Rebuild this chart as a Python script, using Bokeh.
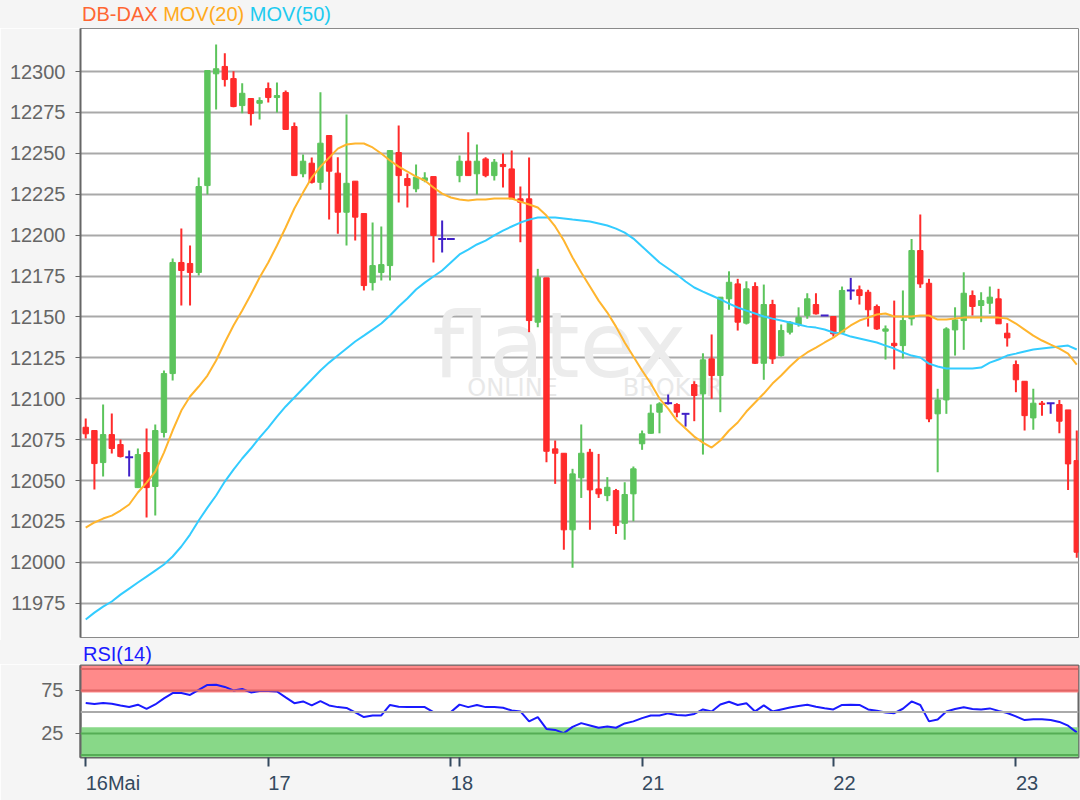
from bokeh.plotting import figure
from bokeh.layouts import column
from bokeh.models import Div, FixedTicker, ColumnDataSource, Range1d, Span, BoxAnnotation
from bokeh.embed import file_html
from bokeh.resources import INLINE
from bokeh.core.properties import value

# ---------------- data ----------------
opens = [12082.6, 12080.6, 12061.0, 12078.1, 12072.0, 12064.3, 12045.7, 12067.1, 12046.4, 12079.4,
         12115.4, 12183.3, 12182.7, 12177.2, 12230.3, 12298.6, 12303.1, 12295.7, 12279.2, 12283.5,
         12280.6, 12289.6, 12284.1, 12287.2, 12266.4, 12237.5, 12244.0, 12232.3, 12260.9, 12237.9,
         12214.0, 12233.0, 12213.2, 12171.0, 12177.2, 12181.4, 12250.5, 12234.6, 12228.3, 12233.4,
         12235.8, 12197.7, 12197.7, 12236.4, 12245.2, 12237.5, 12246.6, 12236.4, 12243.2, 12240.5,
         12222.2, 12222.2, 12146.8, 12173.9, 12069.4, 12066.7, 12019.9, 12051.7, 12067.3, 12044.9,
         12040.8, 12043.9, 12023.9, 12041.9, 12072.5, 12078.9, 12091.8, 12097.3, 12096.5, 12090.8,
         12108.7, 12103.0, 12124.4, 12114.2, 12161.1, 12170.2, 12146.2, 12168.6, 12121.7, 12157.6,
         12126.4, 12140.7, 12145.4, 12150.9, 12157.6, 12150.9, 12150.3, 12140.7, 12166.2, 12166.6,
         12165.1, 12156.4, 12141.3, 12133.9, 12132.5, 12148.9, 12190.6, 12170.6, 12090.8, 12099.3,
         12142.1, 12147.8, 12163.1, 12157.0, 12158.4, 12161.1, 12140.1, 12120.9, 12110.7, 12088.3,
         12097.3, 12097.3, 12096.5, 12093.2, 12062.2]
highs = [12087.9, 12080.6, 12096.5, 12091.0, 12075.1, 12068.4, 12069.6, 12081.8, 12084.3, 12117.3,
         12185.7, 12204.0, 12193.7, 12235.2, 12300.6, 12316.5, 12311.2, 12300.2, 12292.9, 12283.5,
         12284.3, 12293.3, 12293.3, 12288.4, 12268.8, 12249.3, 12247.4, 12287.4, 12260.9, 12247.6,
         12273.7, 12233.0, 12213.2, 12207.7, 12205.3, 12251.7, 12267.0, 12237.7, 12243.2, 12238.4,
         12235.8, 12208.9, 12197.7, 12248.7, 12262.9, 12255.4, 12247.6, 12246.6, 12249.9, 12251.7,
         12229.7, 12247.4, 12179.4, 12173.9, 12074.5, 12066.7, 12057.2, 12084.3, 12069.4, 12066.3,
         12052.1, 12044.9, 12049.0, 12058.6, 12080.6, 12096.5, 12097.9, 12102.6, 12097.3, 12090.8,
         12110.7, 12127.8, 12139.3, 12162.1, 12177.9, 12173.3, 12171.8, 12171.2, 12169.8, 12160.5,
         12145.4, 12147.4, 12155.9, 12164.5, 12164.5, 12150.9, 12150.3, 12168.6, 12173.9, 12169.2,
         12166.6, 12157.6, 12144.8, 12160.0, 12166.2, 12197.7, 12212.6, 12173.3, 12106.1, 12143.7,
         12155.9, 12177.3, 12166.2, 12165.1, 12168.6, 12167.2, 12146.2, 12123.4, 12110.7, 12106.1,
         12098.6, 12097.3, 12099.3, 12093.2, 12080.6]
lows = [12075.7, 12044.5, 12052.5, 12066.5, 12064.1, 12052.5, 12045.7, 12027.4, 12028.6, 12076.3,
        12111.1, 12157.0, 12157.0, 12175.3, 12224.8, 12276.8, 12290.8, 12278.2, 12274.5, 12267.0,
        12270.7, 12281.1, 12274.9, 12264.6, 12236.4, 12235.4, 12231.5, 12227.7, 12209.5, 12200.8,
        12193.7, 12196.7, 12166.2, 12166.2, 12172.3, 12172.3, 12219.9, 12216.9, 12226.2, 12232.3,
        12183.3, 12189.4, 12197.7, 12232.3, 12236.4, 12224.8, 12235.4, 12233.4, 12229.1, 12222.2,
        12195.7, 12140.7, 12143.7, 12061.2, 12048.0, 12007.7, 11996.7, 12039.4, 12019.9, 12039.4,
        12037.4, 12017.4, 12013.8, 12025.1, 12068.8, 12078.6, 12078.9, 12096.5, 12088.7, 12083.0,
        12086.3, 12065.9, 12100.0, 12091.8, 12154.4, 12141.7, 12145.4, 12121.3, 12111.6, 12121.3,
        12125.8, 12139.3, 12144.1, 12148.9, 12151.5, 12150.9, 12138.0, 12140.7, 12160.5, 12157.6,
        12144.1, 12142.1, 12124.0, 12117.9, 12124.6, 12144.8, 12167.8, 12085.7, 12055.1, 12090.8,
        12126.4, 12129.9, 12150.9, 12146.8, 12151.9, 12145.8, 12131.9, 12104.0, 12080.6, 12081.0,
        12089.7, 12090.8, 12078.9, 12044.3, 12002.8]
closes = [12078.6, 12060.4, 12078.1, 12069.6, 12064.7, 12064.3, 12065.9, 12045.7, 12080.6, 12115.4,
          12183.3, 12178.4, 12177.2, 12229.7, 12300.6, 12301.7, 12295.1, 12278.6, 12286.7, 12274.3,
          12282.3, 12284.1, 12285.3, 12264.6, 12236.4, 12245.2, 12232.3, 12256.2, 12239.1, 12214.0,
          12231.7, 12211.0, 12169.2, 12181.4, 12182.0, 12251.7, 12236.4, 12230.3, 12235.4, 12235.0,
          12199.8, 12197.7, 12197.7, 12245.2, 12236.4, 12245.2, 12236.4, 12244.6, 12241.9, 12222.2,
          12220.1, 12147.8, 12174.3, 12067.9, 12066.7, 12019.9, 12054.1, 12066.7, 12044.3, 12041.9,
          12045.9, 12022.5, 12041.5, 12057.2, 12078.6, 12091.2, 12096.9, 12097.3, 12091.8, 12090.8,
          12102.0, 12123.8, 12114.2, 12162.1, 12171.2, 12146.8, 12167.2, 12121.7, 12157.6, 12124.4,
          12141.7, 12146.8, 12149.8, 12161.1, 12151.9, 12150.9, 12139.7, 12166.2, 12166.2, 12163.1,
          12154.4, 12142.7, 12142.7, 12132.5, 12147.8, 12190.6, 12170.2, 12087.7, 12099.3, 12142.7,
          12148.2, 12164.5, 12156.4, 12160.0, 12162.1, 12145.8, 12137.2, 12111.6, 12089.7, 12097.3,
          12096.5, 12097.3, 12086.3, 12060.2, 12006.2]
ma20 = [12021.3, 12024.4, 12026.8, 12028.6, 12031.7, 12035.4, 12042.7, 12048.8, 12055.5, 12067.1,
        12080.6, 12092.8, 12101.4, 12107.5, 12114.2, 12123.4, 12134.4, 12144.8, 12153.9, 12163.7,
        12174.1, 12183.3, 12193.7, 12204.7, 12216.3, 12226.0, 12235.2, 12241.9, 12247.4, 12252.9,
        12255.4, 12256.0, 12256.0, 12253.6, 12249.9, 12245.6, 12241.9, 12238.9, 12235.8, 12233.4,
        12229.1, 12225.4, 12223.0, 12221.8, 12221.2, 12221.8, 12221.8, 12222.4, 12222.4, 12222.4,
        12220.5, 12218.7, 12216.9, 12212.0, 12205.3, 12196.7, 12186.3, 12177.2, 12168.6, 12160.0,
        12152.7, 12144.1, 12134.4, 12125.8, 12117.3, 12109.3, 12100.1, 12094.0, 12086.7, 12081.8,
        12076.9, 12073.2, 12070.2, 12074.5, 12080.6, 12085.5, 12092.2, 12097.7, 12103.2, 12109.3,
        12114.2, 12119.7, 12124.6, 12128.3, 12131.3, 12134.4, 12137.4, 12141.1, 12144.8, 12147.8,
        12149.6, 12151.5, 12152.1, 12150.3, 12150.3, 12150.3, 12150.9, 12150.9, 12148.4, 12148.4,
        12149.0, 12149.6, 12149.6, 12149.6, 12149.6, 12149.6, 12149.0, 12146.0, 12142.3, 12138.6,
        12135.6, 12133.1, 12130.7, 12127.6, 12120.9]
ma50 = [11965.1, 11969.3, 11973.0, 11976.1, 11980.3, 11984.0, 11987.7, 11991.3, 11995.0, 11998.7,
        12003.6, 12009.7, 12017.0, 12025.6, 12033.5, 12040.9, 12049.4, 12056.7, 12063.5, 12069.6,
        12076.3, 12082.4, 12089.1, 12095.3, 12100.8, 12106.3, 12111.8, 12117.3, 12122.1, 12126.4,
        12130.7, 12135.0, 12138.6, 12142.3, 12146.0, 12150.9, 12156.4, 12161.3, 12166.8, 12171.0,
        12174.7, 12178.4, 12183.3, 12188.2, 12191.2, 12194.3, 12196.7, 12199.8, 12202.8, 12205.3,
        12207.7, 12209.5, 12210.8, 12210.8, 12210.8, 12210.2, 12209.5, 12208.9, 12208.3, 12207.1,
        12205.9, 12204.0, 12201.5, 12197.9, 12193.0, 12188.2, 12183.3, 12179.6, 12175.9, 12171.7,
        12168.0, 12165.5, 12163.1, 12160.7, 12158.2, 12155.8, 12153.9, 12152.1, 12150.3, 12149.0,
        12147.8, 12146.6, 12145.4, 12144.1, 12143.5, 12142.3, 12140.5, 12139.9, 12138.0, 12136.8,
        12135.6, 12134.4, 12132.5, 12130.7, 12128.3, 12126.4, 12125.2, 12121.5, 12119.7, 12118.5,
        12118.5, 12118.5, 12118.5, 12119.1, 12122.1, 12124.0, 12126.4, 12127.6, 12128.9, 12130.1,
        12130.7, 12131.3, 12131.9, 12132.5, 12130.1]
rsi = [60.5, 59.3, 60.5, 59.5, 57.6, 55.8, 58.4, 53.5, 58.7, 65.7,
       71.9, 72.1, 69.8, 75.6, 81.4, 81.6, 79.1, 75.0, 76.7, 72.7,
       74.2, 74.2, 73.8, 66.9, 60.2, 62.2, 57.6, 62.6, 57.6, 55.6,
       54.7, 49.4, 44.0, 45.9, 45.9, 58.1, 56.0, 55.6, 55.6, 55.6,
       49.8, 49.8, 49.8, 58.5, 55.6, 58.1, 55.6, 55.6, 54.9, 51.7,
       50.6, 39.0, 44.0, 30.2, 29.1, 25.3, 32.6, 37.0, 34.3, 31.6,
       33.1, 31.6, 36.6, 39.0, 42.8, 45.9, 45.9, 48.3, 46.5, 45.9,
       47.7, 52.9, 50.6, 58.7, 61.9, 58.1, 60.2, 50.6, 57.6, 50.6,
       52.9, 55.2, 57.0, 58.4, 56.0, 54.3, 52.9, 58.1, 58.4, 58.1,
       52.9, 51.4, 49.4, 48.6, 53.7, 62.2, 58.1, 39.0, 41.3, 50.6,
       53.5, 55.5, 53.5, 52.9, 54.1, 51.2, 48.8, 44.8, 40.5, 41.6,
       41.6, 40.7, 38.4, 34.0, 26.2]
day_ticks = [0, 21, 42, 43, 64, 86, 107]
label_ticks = [0, 21, 42, 64, 86, 107]
day_labels = ["16Mai", "17", "18", "21", "22", "23"]
price_ticks = [11975, 12000, 12025, 12050, 12075, 12100, 12125, 12150, 12175, 12200, 12225, 12250, 12275, 12300]
rsi_ticks = [25, 75]

# ---------------- styling ----------------
UP = "#5cc45c"
DOWN = "#ff2b2b"
DOJI = "#4020c8"
BG = "#f5f5f5"
FONT = "Liberation Sans"
W = 1080
X0, X1 = -0.6, 114.2
PX_PER_UNIT = (W - 80 - 2) / (X1 - X0)

idx = list(range(len(opens)))
colors = [UP if c > o else (DOWN if c < o else DOJI) for o, c in zip(opens, closes)]

body_i = [i for i in idx if opens[i] != closes[i]]
body_src = ColumnDataSource(dict(
    x=body_i,
    top=[max(opens[i], closes[i]) for i in body_i],
    bottom=[min(opens[i], closes[i]) for i in body_i],
    color=[colors[i] for i in body_i],
))
wick_src = ColumnDataSource(dict(x=idx, hi=highs, lo=lows, color=colors))
doji_i = [i for i in idx if opens[i] == closes[i]]
doji_src = ColumnDataSource(dict(
    x0=[i - 0.45 for i in doji_i], x1=[i + 0.45 for i in doji_i],
    y=[opens[i] for i in doji_i],
))

xr = Range1d(X0, X1)

p = figure(width=W, height=612, x_range=xr, y_range=Range1d(11954.1, 12326.3),
           output_backend="svg", toolbar_location=None,
           min_border_left=80, min_border_right=2, min_border_top=0, min_border_bottom=3)
p.background_fill_color = "white"
p.border_fill_color = BG
p.outline_line_color = "#8a8a8a"
p.outline_line_width = 1
p.xaxis.visible = False
p.xgrid.visible = False
p.ygrid.grid_line_color = "#a9a9a9"
p.ygrid.grid_line_width = 2
p.yaxis.ticker = FixedTicker(ticks=price_ticks)
p.yaxis.major_label_text_font = FONT
p.yaxis.major_label_text_font_size = "20px"
p.yaxis.major_label_text_color = "#666666"
p.yaxis.axis_line_color = "#666666"
p.yaxis.axis_line_width = 2
p.yaxis.major_tick_line_color = "#666666"
p.yaxis.major_tick_out = 5
p.yaxis.major_tick_in = 0
p.yaxis.minor_tick_line_color = None
p.yaxis.major_label_standoff = 10

# watermark
p.text(x=[54.5], y=[12132.5], text=["flatex"], text_font=value("DejaVu Sans"),
       text_font_size="90px", text_color="#ececec", text_align="center", text_baseline="alphabetic")
p.text(x=[49.1, 67.5], y=[12106.3, 12106.3], text=["ONLINE", "BROKER"], text_font=value("DejaVu Sans"),
       text_font_size="24px", text_color="#e8e8e8", text_align="center", text_baseline="alphabetic")

p.segment(x0="x", y0="lo", x1="x", y1="hi", color="color", line_width=2, source=wick_src)
p.vbar(x="x", top="top", bottom="bottom", width=0.62, fill_color="color", line_color="color",
       line_width=1, source=body_src)
p.segment(x0="x0", y0="y", x1="x1", y1="y", color=DOJI, line_width=2, source=doji_src)

p.line(idx, ma50, color="#33ccff", line_width=2)
p.line(idx, ma20, color="#ffb52e", line_width=2)

# RSI panel
r = figure(width=W, height=136, x_range=xr, y_range=Range1d(-3, 104),
           output_backend="svg", toolbar_location=None,
           min_border_left=80, min_border_right=2, min_border_top=1, min_border_bottom=43)
r.background_fill_color = "white"
r.border_fill_color = BG
r.outline_line_color = "#666666"
r.outline_line_width = 2
r.xgrid.visible = False
r.ygrid.visible = False
r.add_layout(BoxAnnotation(bottom=72.5, fill_color="#ff8a8a", fill_alpha=1.0, line_alpha=0, level="underlay"))
r.add_layout(BoxAnnotation(top=32.3, fill_color="#88d888", fill_alpha=1.0, line_alpha=0, level="underlay"))
for lvl, col in [(100, "#e06565"), (75, "#e06565"), (25, "#55ad55"), (0, "#55ad55")]:
    r.add_layout(Span(location=lvl, dimension="width", line_color=col, line_width=2))
r.add_layout(Span(location=50, dimension="width", line_color="#aaaaaa", line_width=2))
r.line(idx, rsi, color="#1a1aff", line_width=2)

r.yaxis.ticker = FixedTicker(ticks=rsi_ticks)
r.yaxis.major_label_text_font = FONT
r.yaxis.major_label_text_font_size = "20px"
r.yaxis.major_label_text_color = "#666666"
r.yaxis.axis_line_color = "#666666"
r.yaxis.axis_line_width = 2
r.yaxis.major_tick_line_color = "#666666"
r.yaxis.major_tick_out = 5
r.yaxis.major_tick_in = 0
r.yaxis.minor_tick_line_color = None
r.yaxis.major_label_standoff = 12

# x axis: the day tick marks are drawn as minor ticks; the labels (major ticks with hidden marks)
# sit half a label width to the right, so that each label starts at its day tick as in the reference.
def _half_width_units(s):
    em = {"M": 0.833, "a": 0.556, "i": 0.222}
    w = sum(em.get(ch, 0.556) for ch in s) * 20.0
    return w / 2.0 / PX_PER_UNIT

label_pos = [t + _half_width_units(lab) for t, lab in zip(label_ticks, day_labels)]
r.xaxis.ticker = FixedTicker(ticks=label_pos, minor_ticks=day_ticks)
r.xaxis.major_label_overrides = {pos: lab for pos, lab in zip(label_pos, day_labels)}
r.xaxis.major_label_text_font = FONT
r.xaxis.major_label_text_font_size = "20px"
r.xaxis.major_label_text_color = "#34495e"
r.xaxis.major_label_standoff = 5
r.xaxis.axis_line_color = "#666666"
r.xaxis.major_tick_line_color = None
r.xaxis.major_tick_out = 9
r.xaxis.major_tick_in = 0
r.xaxis.minor_tick_line_color = "#34495e"
r.xaxis.minor_tick_line_width = 2
r.xaxis.minor_tick_out = 9
r.xaxis.minor_tick_in = 0

title_div = Div(
    text=('<div style="padding-left:82px;padding-top:4px;font-family:\'Liberation Sans\',Arial,sans-serif;'
          'font-size:20px;line-height:20px;white-space:nowrap">'
          '<span style="color:#ff6633">DB-DAX</span> '
          '<span style="color:#ffaa1c">MOV(20)</span> '
          '<span style="color:#1ecbf0">MOV(50)</span></div>'),
    width=W, height=28, margin=(0, 0, 0, 0), styles={"background-color": BG})
rsi_div = Div(
    text=('<div style="padding-left:83px;padding-top:4px;font-family:\'Liberation Sans\',Arial,sans-serif;'
          'font-size:20px;line-height:20px;white-space:nowrap;color:#1a1aff">RSI(14)</div>'),
    width=W, height=24, margin=(0, 0, 0, 0), styles={"background-color": BG})

layout = column(title_div, p, rsi_div, r, spacing=0)
open("out.html", "w").write(file_html(layout, INLINE))
